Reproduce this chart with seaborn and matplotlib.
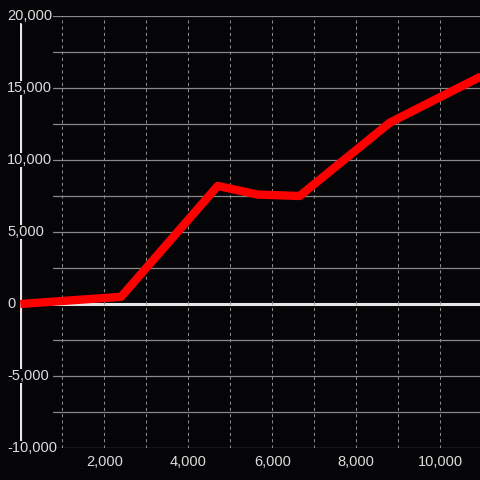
import matplotlib
matplotlib.use("Agg")
import matplotlib.pyplot as plt
import matplotlib.transforms as mtransforms
import seaborn as sns

# data
x_vals = [0, 2400, 4700, 5650, 6650, 8800, 11000]
y_vals = [0, 500, 8200, 7600, 7500, 12600, 15850]

y_grid = [-10000, -7500, -5000, -2500, 0, 2500, 5000, 7500, 10000, 12500, 15000, 17500, 20000]
y_labels = [-10000, -5000, 0, 5000, 10000, 15000, 20000]
x_grid = [1000, 2000, 3000, 4000, 5000, 6000, 7000, 8000, 9000, 10000]
x_labels = [2000, 4000, 6000, 8000, 10000]

bg = "#050508"
sns.set_style("dark")
plt.rcParams["font.family"] = ["Liberation Sans", "DejaVu Sans"]

fig = plt.figure(figsize=(4.8, 4.8), dpi=100, facecolor=bg)
ax = fig.add_axes([20.3 / 480, 32 / 480, 1 - 20.3 / 480, 432 / 480])
ax.set_facecolor(bg)
ax.set_xlim(0, 10945)
ax.set_ylim(-10000, 20000)
for s in ax.spines.values():
    s.set_visible(False)
ax.grid(False)

# gridlines
gx0 = (53 - 20.3) / (480 - 20.3)
for yv in y_grid:
    if yv == 0:
        ax.axhline(yv, xmin=gx0, color="#e6e6e6", lw=2.2, zorder=1)
    else:
        ax.axhline(yv, xmin=gx0, color="#8a8a8a", lw=0.9, zorder=1)
for xv in x_grid:
    ax.axvline(xv, color="#8a8a8a", lw=0.75, ls=(0, (3, 3)), zorder=1)

# y axis line
ax.axvline(0, ymin=0, ymax=(448 - 24) / 432, color="#e6e6e6", lw=2.3, zorder=2)

sns.lineplot(x=x_vals, y=y_vals, color="#ff0000", linewidth=6, ax=ax, zorder=3)
ax.lines[-1].set_solid_capstyle("butt")
ax.lines[-1].set_clip_on(True)

# y labels drawn over the axis line
trans = mtransforms.blended_transform_factory(fig.transFigure, ax.transData)
for yv in y_labels:
    ax.text(7 / 480, yv, f"{yv:,}", transform=trans, ha="left", va="center",
            color="#dddddd", fontsize=10.5, clip_on=False, zorder=4,
            bbox=dict(facecolor=bg, edgecolor="none", pad=0))

ax.set_yticks([])
ax.set_xticks(x_labels)
ax.set_xticklabels([f"{v:,}" for v in x_labels])
ax.tick_params(axis="x", length=0, pad=5, colors="#dddddd", labelsize=10.5)
ax.set_xlabel("")
ax.set_ylabel("")

fig.savefig("out.png", dpi=100, facecolor=bg)
